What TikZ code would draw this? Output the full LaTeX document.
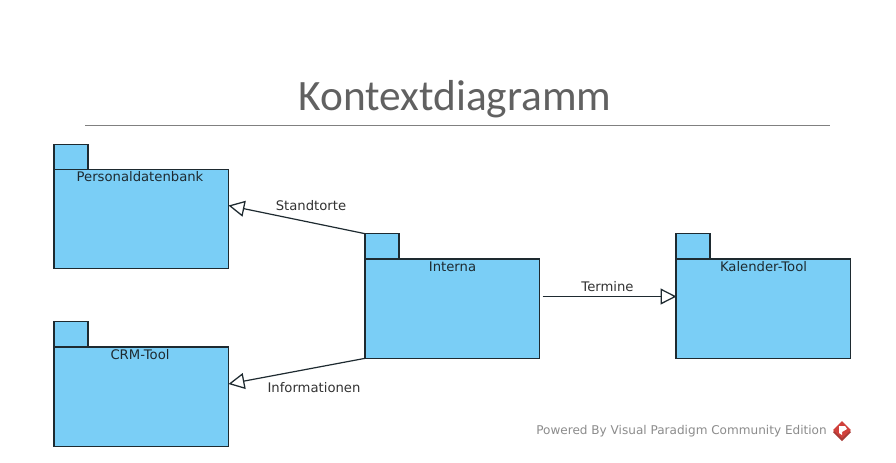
\documentclass[tikz,border=0pt]{standalone}
\usepackage{fontspec}
\setmainfont{DejaVu Sans}
\newfontfamily\titlefont{Carlito}
\usetikzlibrary{arrows.meta}
\definecolor{pkgfill}{HTML}{7ACEF6}
\definecolor{pkgline}{HTML}{1E2A30}
\definecolor{wmgrey}{HTML}{8C8C8C}
\definecolor{wmred}{HTML}{D0413C}
\definecolor{wmdark}{HTML}{A83A36}
\tikzset{
  x=0.75pt,y=-0.75pt,
  pkgbody/.style={draw=pkgline,fill=pkgfill,line width=0.8pt,minimum width=131pt,minimum height=74.5pt,inner sep=0pt,outer sep=0pt,anchor=north west},
  pkgtab/.style={draw=pkgline,fill=pkgfill,line width=0.8pt,minimum width=25.5pt,minimum height=19pt,inner sep=0pt,outer sep=0pt,anchor=south west},
  pkgname/.style={font=\fontsize{9.9pt}{11pt}\selectfont,text=pkgline,inner sep=0pt,anchor=center},
  edgelabel/.style={font=\fontsize{9.9pt}{11pt}\selectfont,text=black!80,inner sep=0pt,anchor=center},
  assoc/.style={draw=pkgline,line width=0.9pt,-{Triangle[open,fill=white,length=12pt,width=12pt,line width=0.95pt]}}
}
\begin{document}
\begin{tikzpicture}
\useasboundingbox (0,0) rectangle (896,462);
\fill[white] (0,0) rectangle (896,462);
\node[font=\titlefont\fontsize{32.5pt}{36pt}\selectfont,text=black!62,inner sep=0pt] (title) at (455,99) {Kontextdiagramm};
\coordinate (ruleL) at (85,125);
\coordinate (ruleR) at (830,125);
\draw[black!50,line width=0.6pt] (ruleL) -- (ruleR);

\node[pkgtab] (ptab) at (54,169.5) {};
\node[pkgbody] (pbody) at (54,169.5) {};
\node[pkgname] (pname) at (140,177) {Personaldatenbank};

\node[pkgtab] (ctab) at (54,347) {};
\node[pkgbody] (cbody) at (54,347) {};
\node[pkgname] (cname) at (140,355) {CRM-Tool};

\node[pkgtab] (itab) at (365,259) {};
\node[pkgbody] (ibody) at (365,259) {};
\node[pkgname] (iname) at (452.5,267) {Interna};

\node[pkgtab] (ktab) at (676,259) {};
\node[pkgbody] (kbody) at (676,259) {};
\node[pkgname] (kname) at (763.5,267) {Kalender-Tool};

\coordinate (pin) at (228.5,205.5);
\coordinate (cin) at (228.5,384);
\coordinate (kin) at (676.5,296.5);
\coordinate (iout) at (542.5,296.5);

\draw[assoc] (itab.north west) -- (pin);
\draw[assoc] (ibody.south west) -- (cin);
\draw[assoc] (iout) -- (kin);

\node[edgelabel] (l1) at (311,206) {Standtorte};
\node[edgelabel] (l2) at (314,388) {Informationen};
\node[edgelabel] (l3) at (607.5,287) {Termine};

\node[font=\fontsize{9.05pt}{11pt}\selectfont,text=wmgrey,inner sep=0pt,anchor=east] (wm) at (827,431) {Powered By Visual Paradigm Community Edition};
\fill[wmdark] (833,432) -- (842,441) -- (851,432) -- (842,425) -- cycle;
\fill[wmred] (842,421) -- (851,430) -- (842,438) -- (833,430) -- cycle;
\fill[white] (839,426) -- (845,426) -- (847,429) -- (842,432) -- (842,435) -- (839,433) -- cycle;
\end{tikzpicture}
\end{document}
